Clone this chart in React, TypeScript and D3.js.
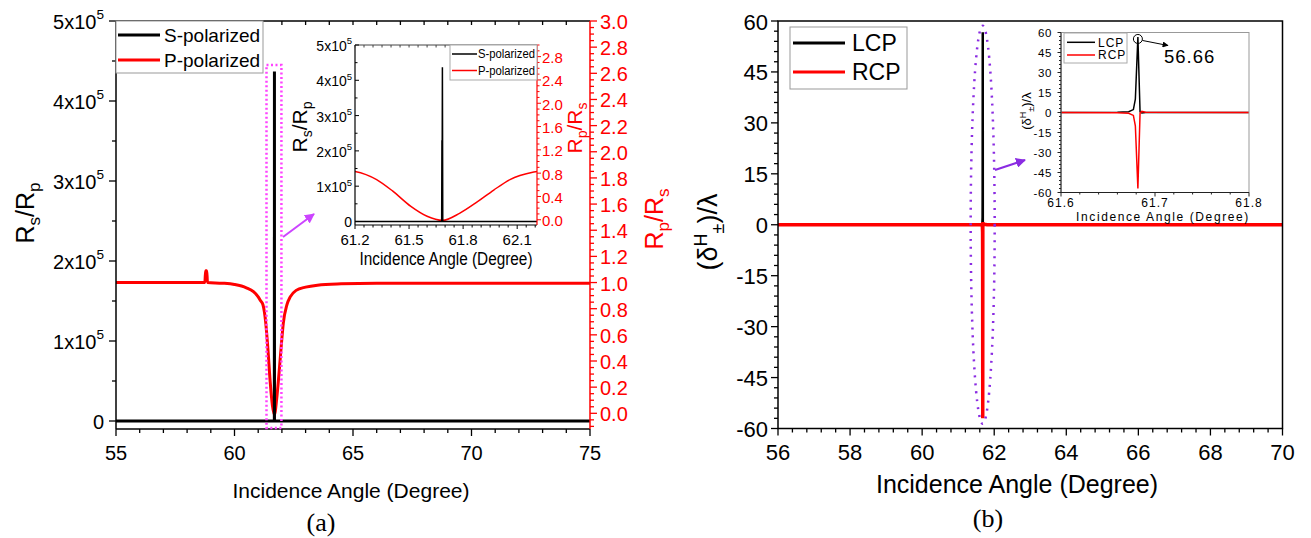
import React from "react";
import * as d3 from "d3";

// ---------- Panel (a): reflectance ratios vs incidence angle ----------
const sAngle = [55, 61.681, 61.6825, 61.683, 61.685, 61.687, 75];
const sRatio = [0, 0, 2.3e5, 0, 4.37e5, 0, 0];

const pAngle = [
  55, 57, 58.75, 58.78, 58.83, 58.86, 59.5, 60.0, 60.5, 60.8, 61.0, 61.1, 61.2,
  61.32, 61.41, 61.51, 61.6, 61.685, 61.78, 61.88, 61.97, 62.06, 62.21, 62.35,
  62.6, 63.0, 63.5, 64.5, 66, 75,
];
const pRatio = [
  1.0, 1.0, 1.0, 1.09, 1.09, 1.0, 0.995, 0.985, 0.96, 0.93, 0.89, 0.86, 0.83,
  0.69, 0.49, 0.23, 0.06, -0.01, 0.11, 0.31, 0.51, 0.69, 0.83, 0.89, 0.94,
  0.965, 0.98, 0.99, 0.995, 0.995,
];

const aXTicks = [55, 60, 65, 70, 75];
const aLeftTicks = [0, 1, 2, 3, 4, 5]; // ×10^5
const aRightTicks = [0, 0.2, 0.4, 0.6, 0.8, 1.0, 1.2, 1.4, 1.6, 1.8, 2.0, 2.2, 2.4, 2.6, 2.8, 3.0];
const insetAXTicks = [61.2, 61.5, 61.8, 62.1];
const insetALeftTicks = [0, 1, 2, 3, 4, 5];
const insetARightTicks = [0, 0.4, 0.8, 1.2, 1.6, 2.0, 2.4, 2.8];

// ---------- Panel (b): spin Hall shift ----------
const lcpAngle = [56, 61.6, 61.66, 61.672, 61.677, 61.6791, 61.6818, 61.6841, 61.686, 61.69, 61.8, 70];
const lcpShift = [0, 0, 0.1, 0.6, 2.2, 10, 56.66, 0.5, -0.4, 0, 0, 0];
const rcpAngle = [56, 61.6, 61.66, 61.672, 61.677, 61.6791, 61.6818, 61.6841, 61.686, 61.69, 61.8, 70];
const rcpShift = [0, 0, -0.1, -0.6, -2.2, -10, -57, -0.5, 0.8, 0.2, 0, 0];
const peakShift = 56.66;
const peakAngle = 61.6818;

const bXTicks = [56, 58, 60, 62, 64, 66, 68, 70];
const bYTicks = [-60, -45, -30, -15, 0, 15, 30, 45, 60];
const insetBXTicks = [61.6, 61.7, 61.8];
const insetBYTicks = [-60, -45, -30, -15, 0, 15, 30, 45, 60];

const FONT = "'Liberation Sans', Arial, Helvetica, sans-serif";
const RED = "#ff0000";

const zip = (xs: number[], ys: number[]) => xs.map((x, i) => [x, ys[i]] as [number, number]);

function range(a: number, b: number, step: number) {
  const out: number[] = [];
  for (let i = 0; a + i * step <= b + 1e-9; i++) out.push(+(a + i * step).toFixed(6));
  return out;
}

function Sci({ m, x, y, size, anchor = "end" }: { m: number; x: number; y: number; size: number; anchor?: string }) {
  if (m === 0)
    return (
      <text x={x} y={y} fontSize={size} textAnchor={anchor} dominantBaseline="central">
        0
      </text>
    );
  return (
    <text x={x} y={y} fontSize={size} textAnchor={anchor} dominantBaseline="central">
      {m}x10
      <tspan dy={-size * 0.4} fontSize={size * 0.68}>
        5
      </tspan>
    </text>
  );
}

export default function App() {
  // scales, main (a)
  const xA = d3.scaleLinear().domain([55, 75]).range([116, 590]);
  const yAL = d3.scaleLinear().domain([-0.1e5, 5e5]).range([429, 21]);
  const yAR = d3.scaleLinear().domain([-0.12, 3.0]).range([429, 21]);
  // inset (a)
  const xIA = d3.scaleLinear().domain([61.2, 62.21]).range([355, 537]);
  const yIAL = d3.scaleLinear().domain([-0.1e5, 5e5]).range([225, 45]);
  const yIAR = d3.scaleLinear().domain([-0.09, 3.0]).range([225, 45]);
  // main (b)
  const xB = d3.scaleLinear().domain([56, 70]).range([778, 1282.5]);
  const yB = d3.scaleLinear().domain([-60, 60]).range([428.5, 21]);
  // inset (b)
  const xIB = d3.scaleLinear().domain([61.6, 61.8]).range([1061, 1249]);
  const yIB = d3.scaleLinear().domain([-60, 60]).range([192.5, 32.5]);

  const sData = zip(sAngle, sRatio);
  const pData = zip(pAngle, pRatio);
  const lcpData = zip(lcpAngle, lcpShift);
  const rcpData = zip(rcpAngle, rcpShift);

  const lineLin = (xs: any, ys: any) =>
    d3.line<[number, number]>().x((d) => xs(d[0])).y((d) => ys(d[1]));
  const lineSmooth = (xs: any, ys: any) =>
    d3
      .line<[number, number]>()
      .x((d) => xs(d[0]))
      .y((d) => ys(d[1]))
      .curve(d3.curveMonotoneX);

  return (
    <svg
      width={1311}
      height={538}
      style={{ display: "block", background: "#fff", position: "absolute", left: 0, top: 0 }}
      fontFamily={FONT}
    >
      <defs>
        <clipPath id="clipA">
          <rect x={116} y={21} width={474} height={408} />
        </clipPath>
        <clipPath id="clipIA">
          <rect x={355} y={45} width={182} height={180} />
        </clipPath>
        <clipPath id="clipB">
          <rect x={778} y={21} width={504.5} height={407.5} />
        </clipPath>
        <clipPath id="clipIB">
          <rect x={1061} y={32.5} width={188} height={160} />
        </clipPath>
        <marker id="headM" viewBox="0 0 10 10" refX="9" refY="5" markerWidth="5" markerHeight="5" orient="auto">
          <path d="M0,0 L10,5 L0,10 z" fill="#cc44ff" />
        </marker>
        <marker id="headP" viewBox="0 0 10 10" refX="9" refY="5" markerWidth="5" markerHeight="5" orient="auto">
          <path d="M0,0 L10,5 L0,10 z" fill="#8a2be2" />
        </marker>
        <marker id="headK" viewBox="0 0 10 10" refX="9" refY="5" markerWidth="6" markerHeight="6" orient="auto">
          <path d="M0,0 L10,5 L0,10 z" fill="#000" />
        </marker>
      </defs>

      {/* ================= PANEL (a) ================= */}
      <g clipPath="url(#clipA)">
        <path d={lineSmooth(xA, yAR)(pData) || ""} fill="none" stroke={RED} strokeWidth={3} />
        <path d={lineLin(xA, yAL)(sData) || ""} fill="none" stroke="#000" strokeWidth={3} />
      </g>

      {/* frame */}
      <line x1={116} y1={21} x2={590} y2={21} stroke="#000" strokeWidth={1.5} />
      <line x1={116} y1={21} x2={116} y2={429} stroke="#000" strokeWidth={1.5} />
      <line x1={116} y1={429} x2={590} y2={429} stroke="#000" strokeWidth={1.5} />
      <line x1={590} y1={21} x2={590} y2={429} stroke={RED} strokeWidth={1.5} />

      {/* bottom ticks */}
      {range(55, 75, 1).map((v) => {
        const major = aXTicks.includes(v);
        return <line key={"abx" + v} x1={xA(v)} x2={xA(v)} y1={429} y2={429 + (major ? 7 : 4)} stroke="#000" strokeWidth={1.3} />;
      })}
      {/* top ticks */}
      {range(56, 74, 1).map((v) => (
        <line key={"atx" + v} x1={xA(v)} x2={xA(v)} y1={21} y2={25} stroke="#000" strokeWidth={1.3} />
      ))}
      {aXTicks.map((v) => (
        <text key={"axl" + v} x={xA(v)} y={460} fontSize={20} textAnchor="middle">
          {v}
        </text>
      ))}
      {/* left ticks */}
      {range(0, 5, 0.5).map((v) => {
        const major = Number.isInteger(v);
        return <line key={"aly" + v} x1={116 - (major ? 7 : 4)} x2={116} y1={yAL(v * 1e5)} y2={yAL(v * 1e5)} stroke="#000" strokeWidth={1.3} />;
      })}
      {aLeftTicks.map((m) => (
        <Sci key={"all" + m} m={m} x={104} y={yAL(m * 1e5) + 1} size={20} />
      ))}
      {/* right ticks (red) */}
      {range(-0.1, 3.0, 0.05).map((v) => {
        const major = Math.abs(v * 5 - Math.round(v * 5)) < 1e-6;
        return <line key={"ary" + v} x1={590} x2={590 + (major ? 7 : 4)} y1={yAR(v)} y2={yAR(v)} stroke={RED} strokeWidth={1.3} />;
      })}
      {aRightTicks.map((v) => (
        <text key={"arl" + v} x={600} y={yAR(v) + 1} fontSize={20} fill={RED} dominantBaseline="central">
          {v.toFixed(1)}
        </text>
      ))}

      {/* axis titles */}
      <text transform="translate(34,213) rotate(-90)" fontSize={25} textAnchor="middle">
        R<tspan dy={6} fontSize={17}>s</tspan>
        <tspan dy={-6}>/R</tspan>
        <tspan dy={6} fontSize={17}>p</tspan>
      </text>
      <text transform="translate(663,219) rotate(-90)" fontSize={25} textAnchor="middle" fill={RED}>
        R<tspan dy={6} fontSize={17}>p</tspan>
        <tspan dy={-6}>/R</tspan>
        <tspan dy={6} fontSize={17}>s</tspan>
      </text>
      <text x={351} y={498} fontSize={21} textAnchor="middle">
        Incidence Angle (Degree)
      </text>
      <text x={321} y={531} fontSize={26} textAnchor="middle" fontFamily="'Liberation Serif', 'Times New Roman', serif">
        (a)
      </text>

      {/* legend (a) */}
      <rect x={116} y={21} width={147} height={52} fill="#fff" stroke="#999" strokeWidth={1} />
      <line x1={118} x2={160} y1={35} y2={35} stroke="#000" strokeWidth={3} />
      <text x={164} y={42} fontSize={19}>S-polarized</text>
      <line x1={118} x2={160} y1={60} y2={60} stroke={RED} strokeWidth={3} />
      <text x={164} y={67} fontSize={19}>P-polarized</text>

      {/* zoom marker */}
      <rect
        x={xA(61.35)}
        y={yAL(4.45e5)}
        width={xA(61.98) - xA(61.35)}
        height={428 - yAL(4.45e5)}
        fill="none"
        stroke="#ff44ff"
        strokeWidth={2.5}
        strokeDasharray="2,2.5"
      />
      <line x1={283} y1={237} x2={314} y2={214} stroke="#cc44ff" strokeWidth={2} markerEnd="url(#headM)" />

      {/* inset (a) */}
      <g clipPath="url(#clipIA)">
        <path d={lineSmooth(xIA, yIAR)(pData) || ""} fill="none" stroke={RED} strokeWidth={1.5} />
        <path d={lineLin(xIA, yIAL)(sData) || ""} fill="none" stroke="#000" strokeWidth={1.5} />
      </g>
      <line x1={355} y1={45} x2={537} y2={45} stroke="#444" strokeWidth={1} />
      <line x1={355} y1={45} x2={355} y2={225} stroke="#000" strokeWidth={1.2} />
      <line x1={355} y1={225} x2={537} y2={225} stroke="#000" strokeWidth={1.2} />
      <line x1={537} y1={45} x2={537} y2={225} stroke={RED} strokeWidth={1.2} />
      {range(61.2, 62.2, 0.05).map((v) => {
        const major = insetAXTicks.some((t) => Math.abs(t - v) < 1e-6);
        return (
          <g key={"iax" + v}>
            <line x1={xIA(v)} x2={xIA(v)} y1={225} y2={225 + (major ? 4 : 2.5)} stroke="#000" strokeWidth={1} />
            <line x1={xIA(v)} x2={xIA(v)} y1={45} y2={47.5} stroke="#444" strokeWidth={1} />
          </g>
        );
      })}
      {insetAXTicks.map((v) => (
        <text key={"iaxl" + v} x={xIA(v)} y={245} fontSize={15} textAnchor="middle">
          {v.toFixed(1)}
        </text>
      ))}
      {range(0, 5, 0.5).map((v) => (
        <line key={"iay" + v} x1={355} x2={355 + (Number.isInteger(v) ? 4 : 2.5)} y1={yIAL(v * 1e5)} y2={yIAL(v * 1e5)} stroke="#000" strokeWidth={1} />
      ))}
      {insetALeftTicks.map((m) => (
        <Sci key={"iayl" + m} m={m} x={352} y={yIAL(m * 1e5) + 1} size={14} />
      ))}
      {range(-0.0, 3.0, 0.1).map((v) => (
        <line key={"iar" + v} x1={537} x2={537 + (Math.abs(v * 2.5 - Math.round(v * 2.5)) < 1e-6 ? 4 : 2.5)} y1={yIAR(v)} y2={yIAR(v)} stroke={RED} strokeWidth={1} />
      ))}
      {insetARightTicks.map((v) => (
        <text key={"iarl" + v} x={542} y={yIAR(v) + 1} fontSize={15} fill={RED} dominantBaseline="central">
          {v.toFixed(1)}
        </text>
      ))}
      <text transform="translate(307,127) rotate(-90)" fontSize={21} textAnchor="middle">
        R<tspan dy={5} fontSize={14}>s</tspan>
        <tspan dy={-5}>/R</tspan>
        <tspan dy={5} fontSize={14}>p</tspan>
      </text>
      <text transform="translate(582,128) rotate(-90)" fontSize={21} textAnchor="middle" fill={RED}>
        R<tspan dy={5} fontSize={14}>p</tspan>
        <tspan dy={-5}>/R</tspan>
        <tspan dy={5} fontSize={14}>s</tspan>
      </text>
      <text x={446} y={265} fontSize={18} textAnchor="middle" textLength={173} lengthAdjust="spacingAndGlyphs">
        Incidence Angle (Degree)
      </text>
      {/* inset (a) legend */}
      <rect x={450} y={45} width={87} height={35} fill="#fff" stroke="#aaa" strokeWidth={1} />
      <line x1={452} x2={477} y1={54} y2={54} stroke="#000" strokeWidth={1.5} />
      <text x={478} y={58} fontSize={12} textLength={57} lengthAdjust="spacingAndGlyphs">S-polarized</text>
      <line x1={452} x2={477} y1={70.5} y2={70.5} stroke={RED} strokeWidth={1.5} />
      <text x={478} y={74.5} fontSize={12} textLength={57} lengthAdjust="spacingAndGlyphs">P-polarized</text>

      {/* ================= PANEL (b) ================= */}
      <g clipPath="url(#clipB)">
        <path d={lineLin(xB, yB)(lcpData) || ""} fill="none" stroke="#000" strokeWidth={2.5} />
        <path d={lineLin(xB, yB)(rcpData) || ""} fill="none" stroke={RED} strokeWidth={3.5} />
      </g>
      <rect x={778} y={21} width={504.5} height={407.5} fill="none" stroke="#000" strokeWidth={1.5} />
      {range(56, 70, 0.4).map((v) => {
        const major = bXTicks.some((t) => Math.abs(t - v) < 1e-6);
        return <line key={"bx" + v} x1={xB(v)} x2={xB(v)} y1={428.5} y2={428.5 + (major ? 7 : 4)} stroke="#000" strokeWidth={1.3} />;
      })}
      {bXTicks.map((v) => (
        <text key={"bxl" + v} x={xB(v)} y={460} fontSize={22} textAnchor="middle">
          {v}
        </text>
      ))}
      {range(-60, 60, 3).map((v) => {
        const major = v % 15 === 0;
        return <line key={"by" + v} x1={778 - (major ? 7 : 4)} x2={778} y1={yB(v)} y2={yB(v)} stroke="#000" strokeWidth={1.3} />;
      })}
      {bYTicks.map((v) => (
        <text key={"byl" + v} x={768} y={yB(v) + 1} fontSize={22} textAnchor="end" dominantBaseline="central">
          {v}
        </text>
      ))}
      <text transform="translate(717,232) rotate(-90)" fontSize={27} textAnchor="middle">
        (δ<tspan dy={-10} fontSize={18}>H</tspan>
        <tspan dy={17} fontSize={18}>±</tspan>
        <tspan dy={-7}>)/λ</tspan>
      </text>
      <text x={1017} y={493} fontSize={25} textAnchor="middle">
        Incidence Angle (Degree)
      </text>
      <text x={988} y={527} fontSize={26} textAnchor="middle" fontFamily="'Liberation Serif', 'Times New Roman', serif">
        (b)
      </text>

      {/* legend (b) */}
      <rect x={790} y={27} width={117} height={62} fill="#fff" stroke="#999" strokeWidth={1} />
      <line x1={793} x2={845} y1={43} y2={43} stroke="#000" strokeWidth={3} />
      <text x={852} y={51} fontSize={23}>LCP</text>
      <line x1={793} x2={845} y1={72} y2={72} stroke={RED} strokeWidth={3} />
      <text x={852} y={80} fontSize={23}>RCP</text>

      {/* highlighted resonance region */}
      <ellipse cx={xB(61.68)} cy={yB(0)} rx={12} ry={199} fill="none" stroke="#8a2be2" strokeWidth={2.5} strokeDasharray="2,6" />
      <line x1={995} y1={170} x2={1025} y2={160} stroke="#8a2be2" strokeWidth={2} markerEnd="url(#headP)" />

      {/* inset (b) */}
      <rect x={1061} y={32.5} width={188} height={160} fill="#fff" />
      <g clipPath="url(#clipIB)">
        <path d={lineLin(xIB, yIB)(lcpData) || ""} fill="none" stroke="#000" strokeWidth={1.5} />
        <path d={lineLin(xIB, yIB)(rcpData) || ""} fill="none" stroke={RED} strokeWidth={1.5} />
      </g>
      <rect x={1061} y={32.5} width={188} height={160} fill="none" stroke="#999" strokeWidth={1} />
      <line x1={1061} y1={32.5} x2={1061} y2={192.5} stroke="#222" strokeWidth={1} />
      <line x1={1061} y1={192.5} x2={1249} y2={192.5} stroke="#222" strokeWidth={1} />
      {range(61.6, 61.8, 0.02).map((v) => {
        const major = insetBXTicks.some((t) => Math.abs(t - v) < 1e-6);
        return <line key={"ibx" + v} x1={xIB(v)} x2={xIB(v)} y1={192.5} y2={192.5 + (major ? 4 : 2)} stroke="#222" strokeWidth={1} />;
      })}
      {insetBXTicks.map((v) => (
        <text key={"ibxl" + v} x={xIB(v)} y={207} fontSize={12} textAnchor="middle" letterSpacing={1}>
          {v.toFixed(1)}
        </text>
      ))}
      {range(-60, 60, 3).map((v) => (
        <line key={"iby" + v} x1={1061 - (v % 15 === 0 ? 3.5 : 2)} x2={1061} y1={yIB(v)} y2={yIB(v)} stroke="#222" strokeWidth={1} />
      ))}
      {insetBYTicks.map((v) => (
        <text key={"ibyl" + v} x={1052} y={yIB(v)} fontSize={11.5} textAnchor="end" dominantBaseline="central" letterSpacing={0.6}>
          {v}
        </text>
      ))}
      <text transform="translate(1031,111) rotate(-90)" fontSize={13} textAnchor="middle">
        (δ<tspan dy={-5} fontSize={9}>H</tspan>
        <tspan dy={8} fontSize={9}>±</tspan>
        <tspan dy={-3}>)/λ</tspan>
      </text>
      <text x={1163} y={221} fontSize={12} textAnchor="middle" letterSpacing={1.6}>
        Incidence Angle (Degree)
      </text>
      {/* inset (b) legend */}
      <rect x={1064} y={33} width={63} height={30} fill="#fff" stroke="#aaa" strokeWidth={1} />
      <line x1={1067} x2={1095} y1={42.3} y2={42.3} stroke="#000" strokeWidth={1.5} />
      <text x={1098} y={46.5} fontSize={12} letterSpacing={1}>LCP</text>
      <line x1={1067} x2={1095} y1={55} y2={55} stroke={RED} strokeWidth={1.5} />
      <text x={1098} y={59.2} fontSize={12} letterSpacing={1}>RCP</text>
      {/* peak annotation */}
      <circle cx={xIB(peakAngle)} cy={yIB(peakShift) + 2} r={4.5} fill="none" stroke="#000" strokeWidth={1} />
      <line x1={xIB(peakAngle) + 4.5} y1={yIB(peakShift) + 3.5} x2={1168} y2={45.5} stroke="#000" strokeWidth={1} markerEnd="url(#headK)" />
      <text x={1164} y={63} fontSize={18.5} letterSpacing={1}>
        {peakShift.toFixed(2)}
      </text>
    </svg>
  );
}
